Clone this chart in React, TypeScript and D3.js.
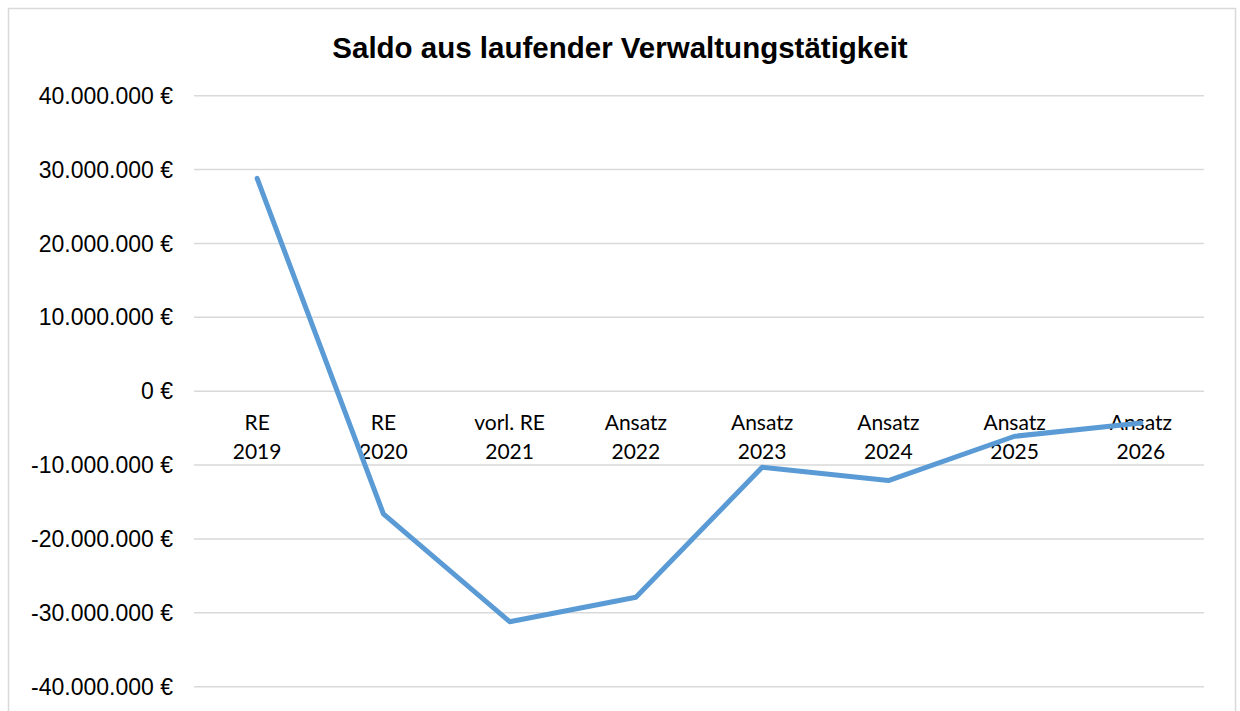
import React from "react";
import * as d3 from "d3";

const categoriesLine1 = ["RE", "RE", "vorl. RE", "Ansatz", "Ansatz", "Ansatz", "Ansatz", "Ansatz"];
const categoriesLine2 = ["2019", "2020", "2021", "2022", "2023", "2024", "2025", "2026"];
const saldo = [28800000, -16600000, -31200000, -27900000, -10300000, -12100000, -6100000, -4300000];
const yTicks = [40000000, 30000000, 20000000, 10000000, 0, -10000000, -20000000, -30000000, -40000000];
const title = "Saldo aus laufender Verwaltungstätigkeit";

const W = 1240;
const H = 711;

function fmt(v: number): string {
  const s = d3.format(",")(Math.abs(v)).replace(/,/g, ".");
  return (v < 0 ? "-" : "") + s + " €";
}

export default function App() {
  const keys = categoriesLine2.map((_, i) => String(i));
  const x = d3.scalePoint<string>().domain(keys).range([194, 1204]).padding(0.5);
  const y = d3.scaleLinear().domain([-40000000, 40000000]).range([686.7, 95.7]);
  const line = d3
    .line<number>()
    .x((_, i) => x(String(i)) as number)
    .y((d) => y(d));

  return (
    <svg
      width={W}
      height={H}
      style={{ position: "absolute", left: 0, top: 0, background: "#fff" }}
    >
      <rect x={0} y={0} width={W} height={H} fill="#fff" />
      <rect x={8.5} y={8.5} width={1227} height={720} fill="#fff" stroke="#d9d9d9" strokeWidth={1.5} />
      <text
        x={620}
        y={58}
        textAnchor="middle"
        fontFamily="'Liberation Sans', Arial, sans-serif"
        fontWeight="bold"
        fontSize={29.5}
        fill="#000"
      >
        {title}
      </text>
      {yTicks.map((t) => (
        <g key={t}>
          <line x1={194} x2={1204} y1={y(t)} y2={y(t)} stroke="#d9d9d9" strokeWidth={1.5} />
          <text
            x={173}
            y={y(t)}
            dy="0.35em"
            textAnchor="end"
            fontFamily="'Liberation Sans', Arial, sans-serif"
            fontSize={23}
            fill="#000"
          >
            {fmt(t)}
          </text>
        </g>
      ))}
      {keys.map((k, i) => (
        <g key={k} fontFamily="Lato, 'Open Sans', sans-serif" fontSize={21} fill="#000" textAnchor="middle">
          <text x={x(k)} y={429.5}>{categoriesLine1[i]}</text>
          <text x={x(k)} y={459.3}>{categoriesLine2[i]}</text>
        </g>
      ))}
      <path
        d={line(saldo) || ""}
        fill="none"
        stroke="#5b9bd5"
        strokeWidth={5}
        strokeLinejoin="round"
        strokeLinecap="round"
      />
    </svg>
  );
}
